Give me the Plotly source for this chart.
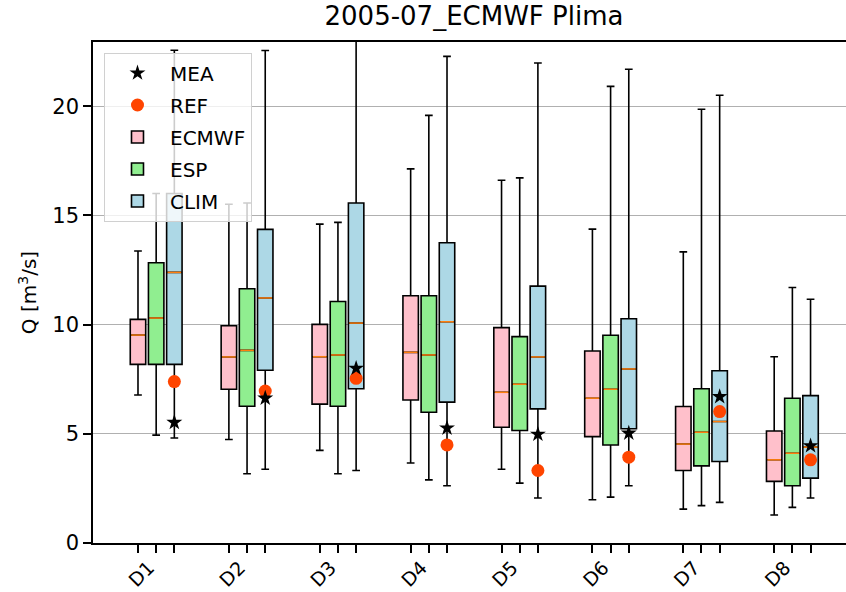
import numpy as np
import plotly.graph_objects as go

days = ["D1", "D2", "D3", "D4", "D5", "D6", "D7", "D8"]

ecmwf_lo = [6.78, 4.74, 4.24, 3.66, 3.38, 1.98, 1.55, 1.28]
ecmwf_q1 = [8.18, 7.04, 6.36, 6.55, 5.30, 4.87, 3.32, 2.82]
ecmwf_med = [9.52, 8.52, 8.53, 8.73, 6.90, 6.63, 4.53, 3.81]
ecmwf_q3 = [10.24, 9.95, 10.01, 11.32, 9.86, 8.79, 6.25, 5.13]
ecmwf_hi = [13.37, 15.51, 14.60, 17.13, 16.61, 14.37, 13.33, 8.53]

esp_lo = [4.94, 3.17, 3.17, 2.89, 2.74, 2.10, 1.71, 1.63]
esp_q1 = [8.18, 6.26, 6.26, 5.99, 5.15, 4.49, 3.53, 2.62]
esp_med = [10.30, 8.82, 8.61, 8.61, 7.27, 7.04, 5.07, 4.11]
esp_q3 = [12.83, 11.64, 11.06, 11.32, 9.45, 9.51, 7.06, 6.63]
esp_hi = [16.0, 15.57, 14.68, 19.58, 16.72, 20.91, 19.86, 11.70]

clim_lo = [4.81, 3.38, 3.32, 2.62, 2.06, 2.62, 1.86, 2.06]
clim_q1 = [8.18, 7.91, 7.06, 6.45, 6.14, 5.23, 3.73, 2.97]
clim_med = [12.39, 11.22, 10.07, 10.13, 8.52, 7.97, 5.56, 4.39]
clim_q3 = [16.0, 14.36, 15.57, 13.75, 11.76, 10.27, 7.89, 6.75]
clim_hi = [22.56, 22.55, 24.0, 22.28, 21.98, 21.69, 20.50, 11.16]

ref_vals = [7.39, 6.96, 7.54, 4.49, 3.32, 3.93, 6.02, 3.81]
mea_vals = [5.52, 6.63, 8.00, 5.26, 4.98, 5.03, 6.70, 4.45]

y_ticks = [0, 5, 10, 15, 20]

FONT = "DejaVu Sans"
base = np.arange(1, len(days) + 1, dtype=float)
offsets = [0.0, 0.2, 0.4]
box_w = 0.17

series = [
    ("ECMWF", "pink", ecmwf_lo, ecmwf_q1, ecmwf_med, ecmwf_q3, ecmwf_hi, 3),
    ("ESP", "lightgreen", esp_lo, esp_q1, esp_med, esp_q3, esp_hi, 4),
    ("CLIM", "lightblue", clim_lo, clim_q1, clim_med, clim_q3, clim_hi, 5),
]

fig = go.Figure()

for (name, col, lo, q1, med, q3, hi, rank), off in zip(series, offsets):
    xs = base + off
    fig.add_trace(go.Box(
        name=name, x=xs, q1=q1, median=med, q3=q3, lowerfence=lo, upperfence=hi,
        fillcolor=col, line=dict(color="black", width=1.6), width=box_w,
        whiskerwidth=0.5, boxpoints=False, legendgroup=name, legendrank=rank,
        hoverinfo="skip",
    ))

for (name, col, lo, q1, med, q3, hi, rank), off in zip(series, offsets):
    mx, my = [], []
    for xv, m in zip(base + off, med):
        mx += [xv - box_w / 2 + 0.01, xv + box_w / 2 - 0.01, None]
        my += [m, m, None]
    fig.add_trace(go.Scatter(x=mx, y=my, mode="lines", line=dict(color="#ff7f0e", width=1.5),
                             showlegend=False, hoverinfo="skip", xaxis="x2"))

clim_x = base + offsets[2]
fig.add_trace(go.Scatter(name="REF", x=clim_x, y=ref_vals, mode="markers",
                         marker=dict(symbol="circle", size=13, color="#ff4500"),
                         legendgroup="REF", legendrank=2, xaxis="x2"))
fig.add_trace(go.Scatter(name="MEA", x=clim_x, y=mea_vals, mode="markers",
                         marker=dict(symbol="star", size=12, color="black"),
                         legendgroup="MEA", legendrank=1, xaxis="x2"))

xr = [0.505, 8.79]
tickpos = sorted(list(base) + list(base + offsets[1]) + list(base + offsets[2]))

fig.update_layout(
    width=846, height=592,
    margin=dict(l=93, r=0, t=42, b=49),
    plot_bgcolor="white", paper_bgcolor="white",
    font=dict(family=FONT, color="black", size=20),
    boxmode="overlay",
    title=dict(text="2005-07_ECMWF Plima", x=474 / 846, xanchor="center",
               y=1 - 16 / 592, yanchor="middle", font=dict(size=26)),
    legend=dict(x=0.0146, y=0.979, xanchor="left", yanchor="top",
                bgcolor="rgba(255,255,255,0.8)", bordercolor="#d0d0d0", borderwidth=1,
                font=dict(size=20), traceorder="grouped", tracegroupgap=3,
                itemwidth=55),
    xaxis=dict(range=xr, tickvals=tickpos, ticktext=[""] * len(tickpos),
               ticks="outside", ticklen=8, tickwidth=1.5, tickcolor="black",
               showline=True, linecolor="black", linewidth=1.5, mirror=True,
               showgrid=False, zeroline=False, automargin=False),
    xaxis2=dict(range=xr, matches="x", overlaying="x", anchor="y", side="bottom",
                tickvals=list(base + 0.12), ticktext=days, tickangle=-45,
                ticks="", showline=False, showgrid=False, zeroline=False,
                tickfont=dict(size=19), ticklabelstandoff=9, automargin=False),
    yaxis=dict(range=[0, 22.94], tickvals=y_ticks, ticks="outside", ticklen=8,
               tickwidth=1.5, tickcolor="black", showline=True, linecolor="black",
               linewidth=1.5, mirror=False, showgrid=True, gridcolor="#b0b0b0",
               gridwidth=1.3, zeroline=False, tickfont=dict(size=21), automargin=False,
               title=dict(text="Q [m<sup>3</sup>/s]", font=dict(size=20), standoff=10)),
)

fig.write_html("out.html")
